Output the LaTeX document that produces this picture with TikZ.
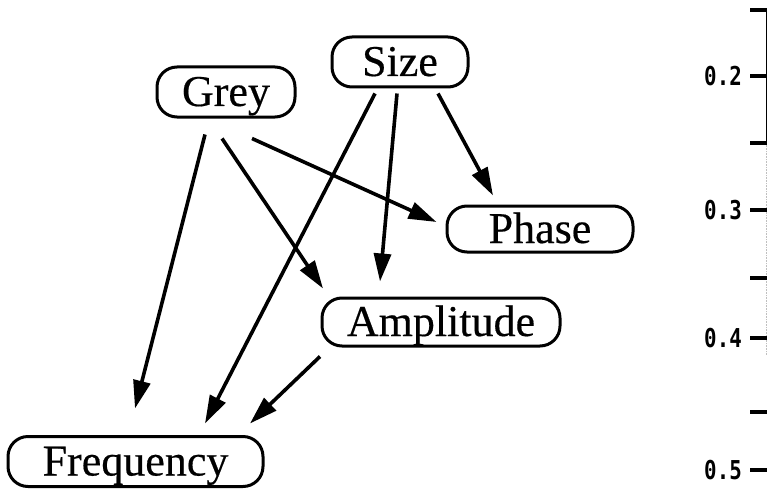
\documentclass[tikz,border=0pt]{standalone}
\usepackage{fontspec}
\setmainfont{Liberation Serif}
\newfontfamily\varfont{Liberation Serif}[FakeBold=0.4]
\newfontfamily\axisfont{DejaVu Sans Mono}
\usetikzlibrary{arrows.meta}

\begin{document}
\begin{tikzpicture}[x=1pt,y=-1pt,
  var/.style={draw, line width=3pt, rounded corners=20pt, inner sep=0pt,
    font=\varfont\fontsize{44}{48}\selectfont, text height=28pt, text depth=0pt},
  dep/.style={line width=3.6pt, -{Triangle[length=28pt,width=17pt]}},
  axtick/.style={line width=3.2pt},
  axlabel/.style={anchor=east, inner sep=0pt}
]
\useasboundingbox (0,0) rectangle (767,492);

% variables
\node[var, minimum width=138pt, minimum height=50pt] (grey)  at (226,92)    {Grey};
\node[var, minimum width=136pt, minimum height=50pt] (size)  at (400,62)    {Size};
\node[var, minimum width=186pt, minimum height=46pt] (phase) at (540,229)   {Phase};
\node[var, minimum width=238pt, minimum height=48pt] (amp)   at (441,322)   {Amplitude};
\node[var, minimum width=255pt, minimum height=50pt] (freq)  at (135.5,461.5) {Frequency};

% dependencies
\draw[dep] ([xshift=-21pt,yshift=-16pt]grey.south) -- ([xshift=-0.5pt,yshift=26.5pt]freq.north);
\draw[dep] ([xshift=-4pt,yshift=-20pt]grey.south)  -- ([xshift=-118pt,yshift=8pt]amp.north);
\draw[dep] ([xshift=26pt,yshift=-20pt]grey.south)  -- ([xshift=-9pt,yshift=7pt]phase.west);
\draw[dep] ([xshift=-25pt,yshift=-5pt]size.south)  -- ([xshift=69.5pt,yshift=11.5pt]freq.north);
\draw[dep] ([xshift=-3pt,yshift=-5pt]size.south)   -- ([xshift=-61pt,yshift=15pt]amp.north);
\draw[dep] ([xshift=38pt,yshift=-5pt]size.south)   -- ([xshift=-47pt,yshift=9pt]phase.north);
\draw[dep] ([xshift=-121pt,yshift=-9pt]amp.south)  -- ([xshift=114.5pt,yshift=11.5pt]freq.north);

% axis on the right
\coordinate (axtop) at (766,10);
\coordinate (axmid) at (766,143);
\coordinate (axlow) at (766,355);
\draw[line width=0.8pt] (axtop) -- (axmid);
\draw[line width=0.6pt, gray!50, densely dotted] (axmid) -- (axlow);
\foreach \y in {10,143,278,412}
  \draw[axtick] (750,\y) -- (767,\y);
\foreach \y/\lab/\nm in {76/0.2/a, 210/0.3/b, 338/0.4/c, 470/0.5/d} {
  \draw[axtick] (750,\y) -- (767,\y);
  \node[axlabel] (lab\nm) at (742,\y)
    {\axisfont\bfseries\fontsize{26}{28}\selectfont\scalebox{0.8}[1]{\lab}};
}
\end{tikzpicture}
\end{document}
